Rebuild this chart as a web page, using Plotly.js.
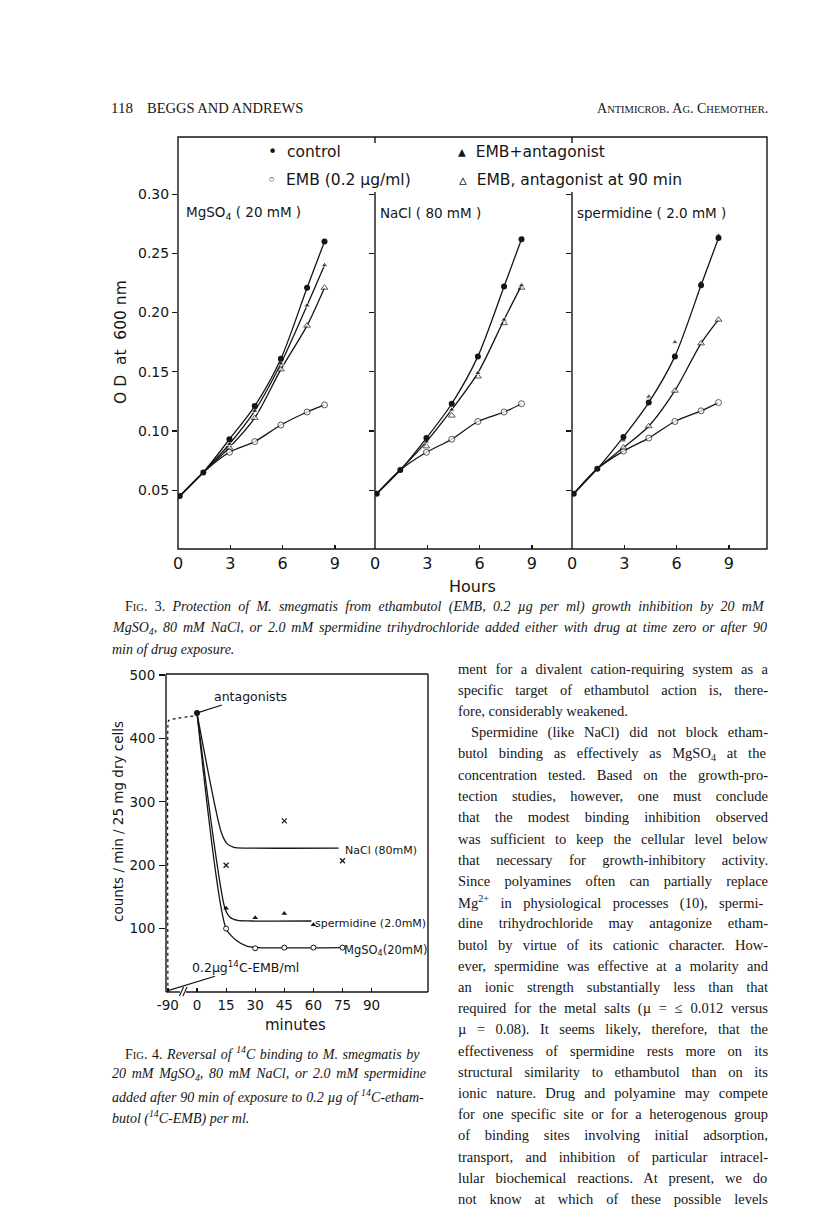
<!DOCTYPE html>
<html><head><meta charset="utf-8">
<script src="https://cdn.plot.ly/plotly-3.0.1.min.js"></script>
<style>html,body{margin:0;padding:0;background:#fff}#chart{width:816px;height:1223px}</style>
</head><body><div id="chart"></div>
<script>
// ---------------- Fig. 3 data (OD at 600 nm vs hours) ----------------
const hours = [0.1, 1.45, 2.95, 4.4, 5.9, 7.4, 8.4];
const hourTicks = [0, 3, 6, 9];
const odTicks = [0.05, 0.10, 0.15, 0.20, 0.25, 0.30];
const panelNames = ['MgSO<sub>4</sub> ( 20 mM )', 'NaCl ( 80 mM )', 'spermidine ( 2.0 mM )'];

const mgControl = [0.045, 0.065, 0.093, 0.121, 0.161, 0.221, 0.260];
const mgEmb     = [0.045, 0.065, 0.082, 0.091, 0.105, 0.116, 0.122];
const mgEmbAnt  = [0.045, 0.065, 0.089, 0.117, 0.157, 0.206, 0.240];
const mgAnt90   = [0.045, 0.065, 0.086, 0.111, 0.152, 0.189, 0.221];

const naControl = [0.047, 0.067, 0.094, 0.123, 0.163, 0.222, 0.262];
const naEmb     = [0.047, 0.067, 0.082, 0.093, 0.108, 0.116, 0.123];
const naEmbAnt  = [0.047, 0.067, 0.091, 0.118, 0.149, 0.194, 0.223];
const naAnt90   = [0.047, 0.067, 0.087, 0.113, 0.146, 0.191, 0.221];

const spControl = [0.047, 0.068, 0.095, 0.124, 0.163, 0.223, 0.263];
const spEmb     = [0.047, 0.068, 0.083, 0.094, 0.108, 0.117, 0.124];
const spEmbAnt  = [0.047, 0.068, 0.092, 0.129, 0.175, 0.225, 0.265];
const spAnt90   = [0.047, 0.068, 0.086, 0.104, 0.134, 0.174, 0.194];

// ---------------- Fig. 4 data (counts/min vs minutes) ----------------
const preT = [-90, -90, -88, 0];
const preV = [0, 418, 428, 436];
const startT = [0];
const startV = [440];
const naclT = [15, 45, 75];
const naclV = [200, 270, 207];
const naclCurveT = [0, 12.5, 15.5, 19, 26, 73];
const naclCurveV = [440, 252, 234, 228, 227, 227];
const spermT = [15, 30, 45, 60];
const spermV = [132, 117, 124, 106];
const spermCurveT = [0, 14.4, 17, 21, 28, 59];
const spermCurveV = [440, 132, 118, 113, 112, 112];
const mgT = [15, 30, 45, 60, 75];
const mgV = [100, 69, 70, 70, 70];
const mgCurveT = [0, 15, 20, 26, 32, 75];
const mgCurveV = [440, 100, 82, 72, 70, 70];
const minuteTicks = [-90, 0, 15, 30, 45, 60, 75, 90];

// ---------------- page text ----------------
const headerLeft = ['118', 'BEGGS AND ANDREWS'];
const headerRight = 'A<span style="font-size:10.5px">NTIMICROB</span>. A<span style="font-size:10.5px">G</span>. C<span style="font-size:10.5px">HEMOTHER</span>.';
const fig3Caption = [
  'F<span style="font-size:10.5px">IG</span>. 3. <i>Protection of M. smegmatis from ethambutol (EMB, 0.2 µg per ml) growth inhibition by 20 mM</i>',
  '<i>MgSO<sub>4</sub>, 80 mM NaCl, or 2.0 mM spermidine trihydrochloride added either with drug at time zero or after 90</i>',
  '<i>min of drug exposure.</i>'
];
const fig4Caption = [
  'F<span style="font-size:10.5px">IG</span>. 4. <i>Reversal of <sup>14</sup>C binding to M. smegmatis by</i>',
  '<i>20 mM MgSO<sub>4</sub>, 80 mM NaCl, or 2.0 mM spermidine</i>',
  '<i>added after 90 min of exposure to 0.2 µg of <sup>14</sup>C-etham-</i>',
  '<i>butol (<sup>14</sup>C-EMB) per ml.</i>'
];
const bodyLines = [
  'ment for a divalent cation-requiring system as a',
  'specific target of ethambutol action is, there-',
  'fore, considerably weakened.',
  'Spermidine (like NaCl) did not block etham-',
  'butol binding as effectively as MgSO<sub>4</sub> at the',
  'concentration tested. Based on the growth-pro-',
  'tection studies, however, one must conclude',
  'that the modest binding inhibition observed',
  'was sufficient to keep the cellular level below',
  'that necessary for growth-inhibitory activity.',
  'Since polyamines often can partially replace',
  'Mg<sup>2+</sup> in physiological processes (10), spermi-',
  'dine trihydrochloride may antagonize etham-',
  'butol by virtue of its cationic character. How-',
  'ever, spermidine was effective at a molarity and',
  'an ionic strength substantially less than that',
  'required for the metal salts (µ = ≤ 0.012 versus',
  'µ = 0.08). It seems likely, therefore, that the',
  'effectiveness of spermidine rests more on its',
  'structural similarity to ethambutol than on its',
  'ionic nature. Drug and polyamine may compete',
  'for one specific site or for a heterogenous group',
  'of binding sites involving initial adsorption,',
  'transport, and inhibition of particular intracel-',
  'lular biochemical reactions. At present, we do',
  'not know at which of these possible levels'
];

// ---------------- helpers ----------------
const W = 816, H = 1223;
const X = p => p / W;
const Y = p => 1 - p / H;
const toAxis = t => t < 0 ? t / 6 : t;   // broken time axis: pre-drug period compressed
const INK = '#151515';
const HAND = 'DejaVu Sans';
const SERIF = 'Liberation Serif';

const cnv = document.createElement('canvas').getContext('2d');
function justify(html, font, width) {
  const plain = html.replace(/<[^>]*>/g, '');
  cnv.font = font;
  const w = cnv.measureText(plain).width;
  const n = (plain.match(/ /g) || []).length;
  const ws = n ? (width - w) / n : 0;
  return '<span style="word-spacing:' + ws.toFixed(2) + 'px">' + html + '</span>';
}
function textAnn(html, x, y, size, opts) {
  opts = opts || {};
  return Object.assign({
    xref: 'paper', yref: 'paper', x: X(x), y: Y(y), text: html,
    xanchor: 'left', yanchor: 'middle', showarrow: false, align: 'left',
    borderpad: 0, borderwidth: 0,
    font: {family: SERIF, size: size, color: INK}
  }, opts);
}

// ---------------- traces ----------------
const traces = [];
const panels = [
  {xa: 'x', ya: 'y', c: mgControl, e: mgEmb, ea: mgEmbAnt, a9: mgAnt90, lineEA: true, lineA9: true},
  {xa: 'x2', ya: 'y2', c: naControl, e: naEmb, ea: naEmbAnt, a9: naAnt90, lineEA: true, lineA9: false},
  {xa: 'x3', ya: 'y3', c: spControl, e: spEmb, ea: spEmbAnt, a9: spAnt90, lineEA: false, lineA9: true}
];
const hideShared = hours.map((h, i) => i < 2 ? 0 : 6);
panels.forEach(p => {
  const common = {x: hours, xaxis: p.xa, yaxis: p.ya, showlegend: false, hoverinfo: 'skip',
                  line: {color: INK, width: 1.3, shape: 'spline', smoothing: 0.8}};
  traces.push(Object.assign({}, common, {y: p.e, mode: 'lines+markers',
    marker: {symbol: 'circle', size: hideShared, color: '#fff', line: {color: INK, width: 1}}}));
  traces.push(Object.assign({}, common, {y: p.a9, mode: p.lineA9 ? 'lines+markers' : 'markers',
    marker: {symbol: 'triangle-up', size: hideShared, color: '#fff', line: {color: INK, width: 1}}}));
  traces.push(Object.assign({}, common, {y: p.ea, mode: p.lineEA ? 'lines+markers' : 'markers',
    marker: {symbol: 'triangle-up', size: hideShared, color: INK}}));
  traces.push(Object.assign({}, common, {y: p.c, mode: 'lines+markers',
    marker: {symbol: 'circle', size: 6, color: INK}}));
});

const f4 = {xaxis: 'x4', yaxis: 'y4', showlegend: false, hoverinfo: 'skip'};
traces.push(Object.assign({}, f4, {x: preT.map(toAxis), y: preV, mode: 'lines',
  line: {color: INK, width: 1.2, dash: 'dot', shape: 'spline', smoothing: 0.5}}));
traces.push(Object.assign({}, f4, {x: naclCurveT.map(toAxis), y: naclCurveV, mode: 'lines',
  line: {color: INK, width: 1.3, shape: 'spline', smoothing: 0.7}}));
traces.push(Object.assign({}, f4, {x: spermCurveT.map(toAxis), y: spermCurveV, mode: 'lines',
  line: {color: INK, width: 1.3, shape: 'spline', smoothing: 0.7}}));
traces.push(Object.assign({}, f4, {x: mgCurveT.map(toAxis), y: mgCurveV, mode: 'lines',
  line: {color: INK, width: 1.3, shape: 'spline', smoothing: 0.7}}));
traces.push(Object.assign({}, f4, {x: naclT.map(toAxis), y: naclV, mode: 'markers',
  marker: {symbol: 'x-thin', size: 5, line: {color: INK, width: 1.2}}}));
traces.push(Object.assign({}, f4, {x: spermT.map(toAxis), y: spermV, mode: 'markers',
  marker: {symbol: 'triangle-up', size: 5, color: INK}}));
traces.push(Object.assign({}, f4, {x: mgT.map(toAxis), y: mgV, mode: 'markers',
  marker: {symbol: 'circle', size: 5, color: '#fff', line: {color: INK, width: 1}}}));
traces.push(Object.assign({}, f4, {x: startT.map(toAxis), y: startV, mode: 'markers',
  marker: {symbol: 'circle', size: 6, color: INK}}));

// ---------------- axes ----------------
const pxPerHour = 17.44;
function xAx(d0, d1, anchor) {
  return {domain: [X(d0), X(d1)], range: [0, (d1 - d0) / pxPerHour], anchor: anchor,
    showline: false, showgrid: false, zeroline: false, ticks: 'inside', ticklen: 4, tickwidth: 1.2,
    tickcolor: INK, tickvals: hourTicks, ticktext: hourTicks.map(String), ticklabelstandoff: 3,
    tickfont: {family: HAND, size: 16, color: INK}};
}
function yAx(anchor, labels) {
  return {domain: [Y(549), Y(137)], range: [0.0003, 0.3483], anchor: anchor,
    showline: false, showgrid: false, zeroline: false, ticks: 'outside', ticklen: 5, tickwidth: 1.2,
    tickcolor: INK, tickvals: odTicks, ticktext: odTicks.map(v => v.toFixed(2)),
    showticklabels: labels, ticklabelstandoff: 0,
    tickfont: {family: HAND, size: 14, color: INK}};
}

const layout = {
  width: W, height: H, margin: {l: 0, r: 0, t: 0, b: 0},
  paper_bgcolor: '#fff', plot_bgcolor: 'rgba(0,0,0,0)',
  font: {family: HAND, color: INK},
  xaxis: xAx(178, 375, 'y'),
  xaxis2: xAx(375, 572, 'y2'),
  xaxis3: xAx(572, 767, 'y3'),
  yaxis: yAx('x', true),
  yaxis2: yAx('x2', false),
  yaxis3: yAx('x3', false),
  xaxis4: {domain: [X(166), X(428)], range: [-15.98, 119.07], anchor: 'y4',
    showline: false, showgrid: false, zeroline: false, ticks: 'inside', ticklen: 4, tickwidth: 1.2,
    tickcolor: INK, tickvals: minuteTicks.map(toAxis), ticktext: minuteTicks.map(String),
    ticklabelstandoff: 3, tickfont: {family: HAND, size: 13.5, color: INK}},
  yaxis4: {domain: [Y(992), Y(674)], range: [0, 501.6], anchor: 'x4',
    showline: false, showgrid: false, zeroline: false, ticks: 'outside', ticklen: 6, tickwidth: 1.2,
    tickcolor: INK, tickvals: [100, 200, 300, 400, 500], ticktext: ['100', '200', '300', '400', '500'],
    ticklabelstandoff: 1, tickfont: {family: HAND, size: 13.5, color: INK}},
  shapes: [],
  annotations: []
};

const S = layout.shapes;
const ln = (x0, y0, x1, y1, w) => S.push({type: 'line', xref: 'paper', yref: 'paper',
  x0: X(x0), y0: Y(y0), x1: X(x1), y1: Y(y1), line: {color: INK, width: w || 1.4}});
// Fig 3 frame
S.push({type: 'rect', xref: 'paper', yref: 'paper', x0: X(178), x1: X(767), y0: Y(549), y1: Y(137),
  line: {color: INK, width: 1.4}});
ln(375, 192, 375, 549); ln(572, 192, 572, 549);
ln(375, 137, 375, 143); ln(572, 137, 572, 143);
// Fig 4 frame with axis break
ln(166, 674, 166, 992); ln(166, 674, 428, 674); ln(428, 674, 428, 992);
ln(166, 992, 180, 992); ln(186, 992, 428, 992);
ln(179.5, 996, 183.5, 987, 1.1); ln(183, 996, 187, 987, 1.1);

const A = layout.annotations;
// Fig 3 legend
const legFont = {family: HAND, size: 15.5, color: INK};
A.push(textAnn('•  control', 268, 152, 15.5, {font: legFont}));
A.push(textAnn('◦  EMB (0.2 µg/ml)', 267, 180, 15.5, {font: legFont}));
A.push(textAnn('▴  EMB+antagonist', 458, 152, 15.5, {font: legFont}));
A.push(textAnn('▵  EMB, antagonist at 90 min', 459, 180, 15.5, {font: legFont}));
// panel labels
const panelX = [186, 380, 577];
panelNames.forEach((n, i) => A.push(textAnn(n, panelX[i], 213, 13.5, {font: {family: HAND, size: 13.5, color: INK}})));
// Fig 3 axis titles
A.push(textAnn('Hours', 472, 587, 16, {xanchor: 'center', font: {family: HAND, size: 16, color: INK}}));
A.push(textAnn('O D  at  600 nm', 121, 342, 15.5, {xanchor: 'center', textangle: -90, font: {family: HAND, size: 15.5, color: INK}}));
// Fig 4 labels
const f4Font = s => ({family: HAND, size: s, color: INK});
A.push(textAnn('NaCl (80mM)', 345, 850, 11, {font: f4Font(11)}));
A.push(textAnn('spermidine (2.0mM)', 315, 923, 11, {font: f4Font(11)}));
A.push(textAnn('MgSO<sub>4</sub>(20mM)', 344, 950, 11.5, {font: f4Font(11.5)}));
A.push({xref: 'x4', yref: 'y4', x: toAxis(0), y: 440, ax: 53, ay: -17, text: 'antagonists',
  showarrow: true, arrowhead: 0, arrowwidth: 1.2, arrowcolor: INK, standoff: 2, font: f4Font(12.5)});
A.push({xref: 'x4', yref: 'y4', x: toAxis(-90), y: 2, ax: 78, ay: -24, text: '0.2µg<sup>14</sup>C-EMB/ml',
  showarrow: true, arrowhead: 0, arrowwidth: 1.2, arrowcolor: INK, standoff: 1, font: f4Font(12.5)});
A.push(textAnn('counts / min / 25 mg dry cells', 118, 822, 13.5, {xanchor: 'center', textangle: -90, font: f4Font(13.5)}));
A.push(textAnn('minutes', 295, 1025, 15, {xanchor: 'center', font: f4Font(15)}));

// header
A.push(textAnn(headerLeft[0], 111, 108, 15));
A.push(textAnn(headerLeft[1], 147, 108, 14.5));
A.push(textAnn(headerRight, 768, 108, 14, {xanchor: 'right', align: 'right'}));

// captions
const capSize = 14;
const capFont = 'italic ' + capSize + 'px "Liberation Serif"';
const f3y = [607, 628, 649];
fig3Caption.forEach((t, i) => {
  const x0 = i === 0 ? 125 : 112;
  const txt = i < 2 ? justify(t, capFont, 768 - x0) : t;
  A.push(textAnn(txt, x0, f3y[i], capSize));
});
const f4y = [1053, 1074.5, 1096, 1117];
fig4Caption.forEach((t, i) => {
  const x0 = i === 0 ? 125 : 112;
  const txt = i < 3 ? justify(t, capFont, 428 - x0) : t;
  A.push(textAnn(txt, x0, f4y[i], capSize));
});
// body column
const bodySize = 14.5;
const bodyFont = bodySize + 'px "Liberation Serif"';
bodyLines.forEach((t, i) => {
  const x0 = i === 3 ? 471 : 458;
  const txt = i === 2 ? t : justify(t, bodyFont, 768 - x0);
  A.push(textAnn(txt, x0, 669 + i * 21.2, bodySize));
});

Plotly.newPlot('chart', traces, layout, {staticPlot: true});
</script>
</body></html>
